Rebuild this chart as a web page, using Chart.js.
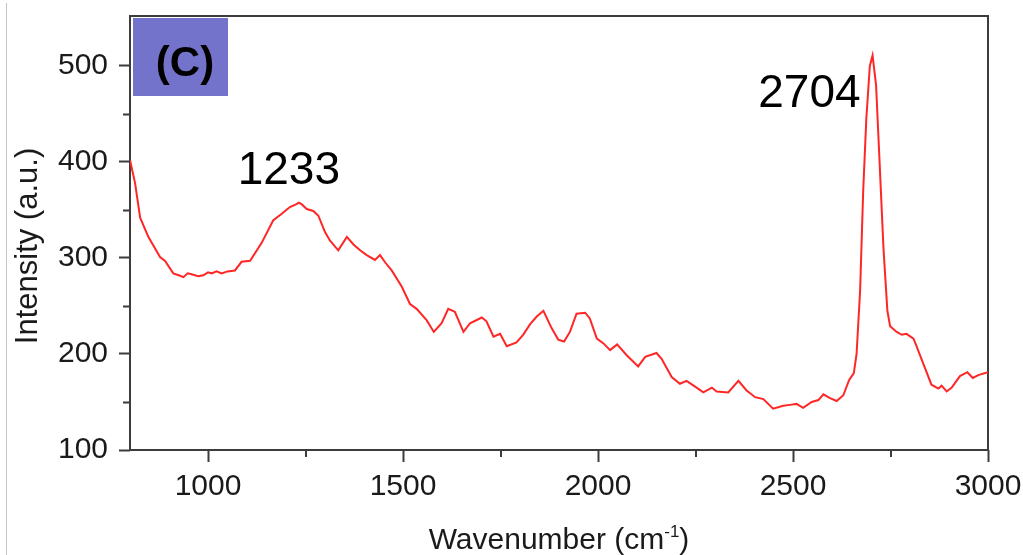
<!DOCTYPE html>
<html>
<head>
<meta charset="utf-8">
<script src="https://cdn.jsdelivr.net/npm/chart.js@4"></script>
<style>
  html, body { margin: 0; padding: 0; background: #fff; }
  #wrap { width: 1023px; height: 555px; position: relative; }
</style>
</head>
<body>
<div id="wrap"><canvas id="ramanChart"></canvas></div>
<script>
// Raman spectrum, panel (C)
var wavenumber = [
  800, 813, 826, 847, 877, 890, 911, 925, 937, 948, 958, 975, 988, 1000, 1009, 1022, 1035, 1050, 1069,
  1086, 1108, 1138, 1167, 1189, 1210, 1227, 1233, 1240, 1253, 1270, 1283, 1300, 1313, 1334,
  1356, 1373, 1390, 1407, 1428, 1441, 1455, 1471, 1497, 1518, 1535, 1561, 1579, 1599, 1616,
  1633, 1655, 1672, 1702, 1714, 1732, 1749, 1766, 1791, 1808, 1826, 1843, 1860, 1881, 1898,
  1913, 1928, 1945, 1967, 1979, 1997, 2014, 2031, 2049, 2073, 2103, 2121, 2150, 2163, 2189,
  2210, 2227, 2249, 2270, 2292, 2304, 2334, 2360, 2381, 2403, 2424, 2449, 2475, 2492, 2509,
  2526, 2548, 2565, 2578, 2595, 2612, 2629, 2644, 2656, 2663, 2672, 2680, 2688, 2697, 2704,
  2713, 2722, 2732, 2742, 2749, 2766, 2779, 2791, 2809, 2817, 2834, 2855, 2873, 2881, 2894,
  2907, 2928, 2947, 2961, 2975, 3000
];
var intensity = [
  402, 378, 342, 322, 301, 297, 284, 282, 280, 284, 283, 281, 282, 285, 284, 286, 284, 286, 287,
  296, 297, 316, 339, 346, 353, 356, 357.5, 356, 351, 349, 344, 327, 318, 308,
  322, 314, 308, 303, 298, 303, 295, 287, 270, 252, 247, 235, 223, 232, 247,
  244, 223, 232, 238, 234, 218, 221, 208, 212, 220, 231, 239, 245, 227, 215,
  213, 223, 242, 243, 237, 216, 211, 204, 210, 199, 187, 197, 201, 195, 176,
  169, 172, 166, 160, 165, 161, 160, 172, 162, 155, 153, 143, 146, 147, 148,
  144, 150, 152, 158, 154, 151, 157, 173, 180, 200, 265, 370, 445, 500, 511,
  480, 400, 310, 245, 229, 223, 220, 221, 216, 208, 190, 168, 164, 167, 161,
  165, 177, 181, 175, 178, 181
];

// peaks called out above the trace
var peakLabels = ['1233', '2704'];
var peakPositions = [1233, 2704];

var xTicks = [1000, 1500, 2000, 2500, 3000];
var yTicks = [100, 200, 300, 400, 500];
var xMinorTicks = [1250, 1750, 2250, 2750];
var yMinorTicks = [150, 250, 350, 450];

var axisColor = '#3c3c3c';
var textColor = '#1a1a1a';
var fontFamily = '"Liberation Sans", Arial, sans-serif';

var points = wavenumber.map(function(w, i) {
  return { x: w, y: intensity[i] };
});

var decorations = {
  id: 'decorations',
  beforeDatasetsDraw: function(chart) {
    var ctx = chart.ctx;
    var area = chart.chartArea;
    var xs = chart.scales.x, ys = chart.scales.y;
    ctx.save();
    // axis frame
    ctx.strokeStyle = axisColor;
    ctx.lineWidth = 2;
    ctx.strokeRect(area.left, area.top, area.right - area.left, area.bottom - area.top);
    // minor ticks
    ctx.beginPath();
    yMinorTicks.forEach(function(v) {
      var py = Math.round(ys.getPixelForValue(v)) + 0.5;
      ctx.moveTo(area.left - 7, py);
      ctx.lineTo(area.left, py);
    });
    xMinorTicks.forEach(function(v) {
      var px = Math.round(xs.getPixelForValue(v));
      ctx.moveTo(px, area.bottom);
      ctx.lineTo(px, area.bottom + 7);
    });
    ctx.stroke();
    // thin page edge on the far left
    ctx.strokeStyle = '#c4c4c4';
    ctx.lineWidth = 1;
    ctx.beginPath();
    ctx.moveTo(6.5, 3);
    ctx.lineTo(6.5, chart.height);
    ctx.stroke();
    ctx.restore();
  },
  afterDraw: function(chart) {
    var ctx = chart.ctx;
    var area = chart.chartArea;
    var xs = chart.scales.x, ys = chart.scales.y;
    ctx.save();

    // panel tag
    ctx.fillStyle = '#7373cc';
    ctx.fillRect(area.left + 3, area.top + 2, 95, 78);
    ctx.fillStyle = '#000';
    ctx.font = 'bold 42px ' + fontFamily;
    ctx.textAlign = 'center';
    ctx.textBaseline = 'alphabetic';
    ctx.fillText('(C)', area.left + 55, area.top + 60);

    // peak positions
    var offsets = [{ dx: -10, dy: -19, align: 'center' }, { dx: -12, dy: 52, align: 'right' }];
    ctx.font = '46px ' + fontFamily;
    peakLabels.forEach(function(label, i) {
      var idx = wavenumber.indexOf(peakPositions[i]);
      var px = xs.getPixelForValue(peakPositions[i]);
      var py = ys.getPixelForValue(intensity[idx]);
      ctx.textAlign = offsets[i].align;
      ctx.fillText(label, px + offsets[i].dx, py + offsets[i].dy);
    });

    // y axis title
    ctx.fillStyle = textColor;
    ctx.font = '31px ' + fontFamily;
    ctx.save();
    ctx.translate(28, (area.top + area.bottom) / 2 + 13);
    ctx.rotate(-Math.PI / 2);
    ctx.textAlign = 'center';
    ctx.textBaseline = 'middle';
    ctx.fillText('Intensity (a.u.)', 0, 0);
    ctx.restore();

    // x axis title with superscript
    var main = 'Wavenumber (cm', sup = '-1', tail = ')';
    ctx.font = '30px ' + fontFamily;
    var w1 = ctx.measureText(main).width;
    var w3 = ctx.measureText(tail).width;
    ctx.font = '17px ' + fontFamily;
    var w2 = ctx.measureText(sup).width;
    var cx = (area.left + area.right) / 2;
    var x0 = cx - (w1 + w2 + w3) / 2;
    var base = 549;
    ctx.textAlign = 'left';
    ctx.textBaseline = 'alphabetic';
    ctx.font = '30px ' + fontFamily;
    ctx.fillText(main, x0, base);
    ctx.font = '17px ' + fontFamily;
    ctx.fillText(sup, x0 + w1, base - 12);
    ctx.font = '30px ' + fontFamily;
    ctx.fillText(tail, x0 + w1 + w2, base);
    ctx.restore();
  }
};

var ctx = document.getElementById('ramanChart').getContext('2d');
new Chart(ctx, {
  type: 'line',
  data: {
    datasets: [{
      data: points,
      borderColor: '#ff2626',
      borderWidth: 2,
      pointRadius: 0,
      tension: 0,
      fill: false
    }]
  },
  options: {
    responsive: true,
    maintainAspectRatio: false,
    animation: false,
    layout: { padding: { top: 16, right: 35, left: 0, bottom: 0 } },
    plugins: {
      legend: { display: false },
      tooltip: { enabled: false }
    },
    scales: {
      x: {
        type: 'linear',
        min: 800,
        max: 3000,
        afterBuildTicks: function(scale) {
          scale.ticks = xTicks.map(function(v) { return { value: v }; });
        },
        afterFit: function(scale) {
          scale.height = 105;
          scale.paddingLeft = 0;
          scale.paddingRight = 0;
        },
        border: { display: false },
        grid: {
          drawOnChartArea: false,
          drawTicks: true,
          tickLength: 12,
          tickColor: axisColor,
          tickWidth: 2
        },
        ticks: {
          color: textColor,
          padding: 7,
          maxRotation: 0,
          font: { family: fontFamily, size: 30 },
          callback: function(v) { return v; }
        }
      },
      y: {
        min: 100,
        max: 552,
        afterBuildTicks: function(scale) {
          scale.ticks = yTicks.map(function(v) { return { value: v }; });
        },
        afterFit: function(scale) {
          scale.width = 130;
          scale.paddingTop = 0;
          scale.paddingBottom = 0;
        },
        border: { display: false },
        grid: {
          drawOnChartArea: false,
          drawTicks: true,
          tickLength: 11,
          tickColor: axisColor,
          tickWidth: 2
        },
        ticks: {
          color: textColor,
          padding: 11,
          font: { family: fontFamily, size: 30 },
          callback: function(v) { return v; }
        }
      }
    }
  },
  plugins: [decorations]
});
</script>
</body>
</html>
